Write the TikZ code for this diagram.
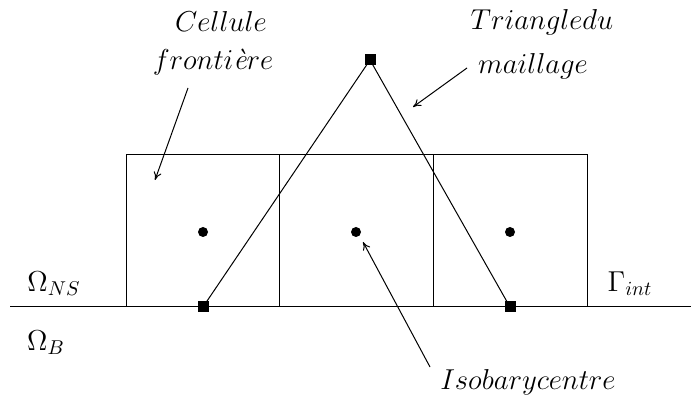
\documentclass[tikz,border=0pt]{standalone}
\usepackage{tikz}
\usetikzlibrary{positioning,arrows.meta}

\begin{document}
\begin{tikzpicture}[x=0.5pt,y=-0.5pt,line width=0.5pt,
          sommet/.style={fill=black,rectangle,minimum size=5.5pt,inner sep=0pt},
          centre/.style={fill=black,circle,minimum size=5pt,inner sep=0pt},
          lbl/.style={font=\fontsize{14.7}{17}\selectfont,inner sep=0pt},
          fleche/.style={-{To[length=4pt,width=4pt]}}]
        \useasboundingbox (0,0) rectangle (691,400);

        % interface et cellules
        \draw (10,307) -- (691,307);
        \draw (126,307) |- (587,155) -- (587,307);
        \draw (279,155) -- (279,307);
        \draw (433,155) -- (433,307);

        % isobarycentres
        \node[centre] (g1) at (203,232) {};
        \node[centre] (g2) at (356,232) {};
        \node[centre] (g3) at (510,232) {};

        % triangle du maillage
        \node[sommet] (t1) at (370,60) {};
        \node[sommet] (t2) at (203,307) {};
        \node[sommet] (t3) at (510,307) {};
        \draw (t1.center) -- (t2.center);
        \draw (t1.center) -- (t3.center);

        % etiquettes
        \node[lbl] (cel1) at (221,22) {$Cellule$};
        \node[lbl] (cel2) at (213,62) {$fronti\mbox{\itshape è}re$};
        \node[lbl] (tri1) at (542,22) {$Triangledu$};
        \node[lbl] (tri2) at (533,66) {$maillage$};
        \node[lbl] (iso) at (528,382) {$Isobarycentre$};
        \node[lbl] (ons) at (54,284) {$\Omega_{NS}$};
        \node[lbl] (ob) at (46,343) {$\Omega_{B}$};
        \node[lbl] (gint) at (630,284) {$\Gamma_{int}$};

        % fleches
        \coordinate (a1) at (188,88);
        \coordinate (c1) at (155,180);
        \coordinate (a2) at (467,68);
        \coordinate (c2) at (413,107);
        \coordinate (a3) at (430,367);
        \coordinate (c3) at (363,242);
        \draw[fleche] (a1) -- (c1);
        \draw[fleche] (a2) -- (c2);
        \draw[fleche] (a3) -- (c3);
      \end{tikzpicture}
\end{document}
